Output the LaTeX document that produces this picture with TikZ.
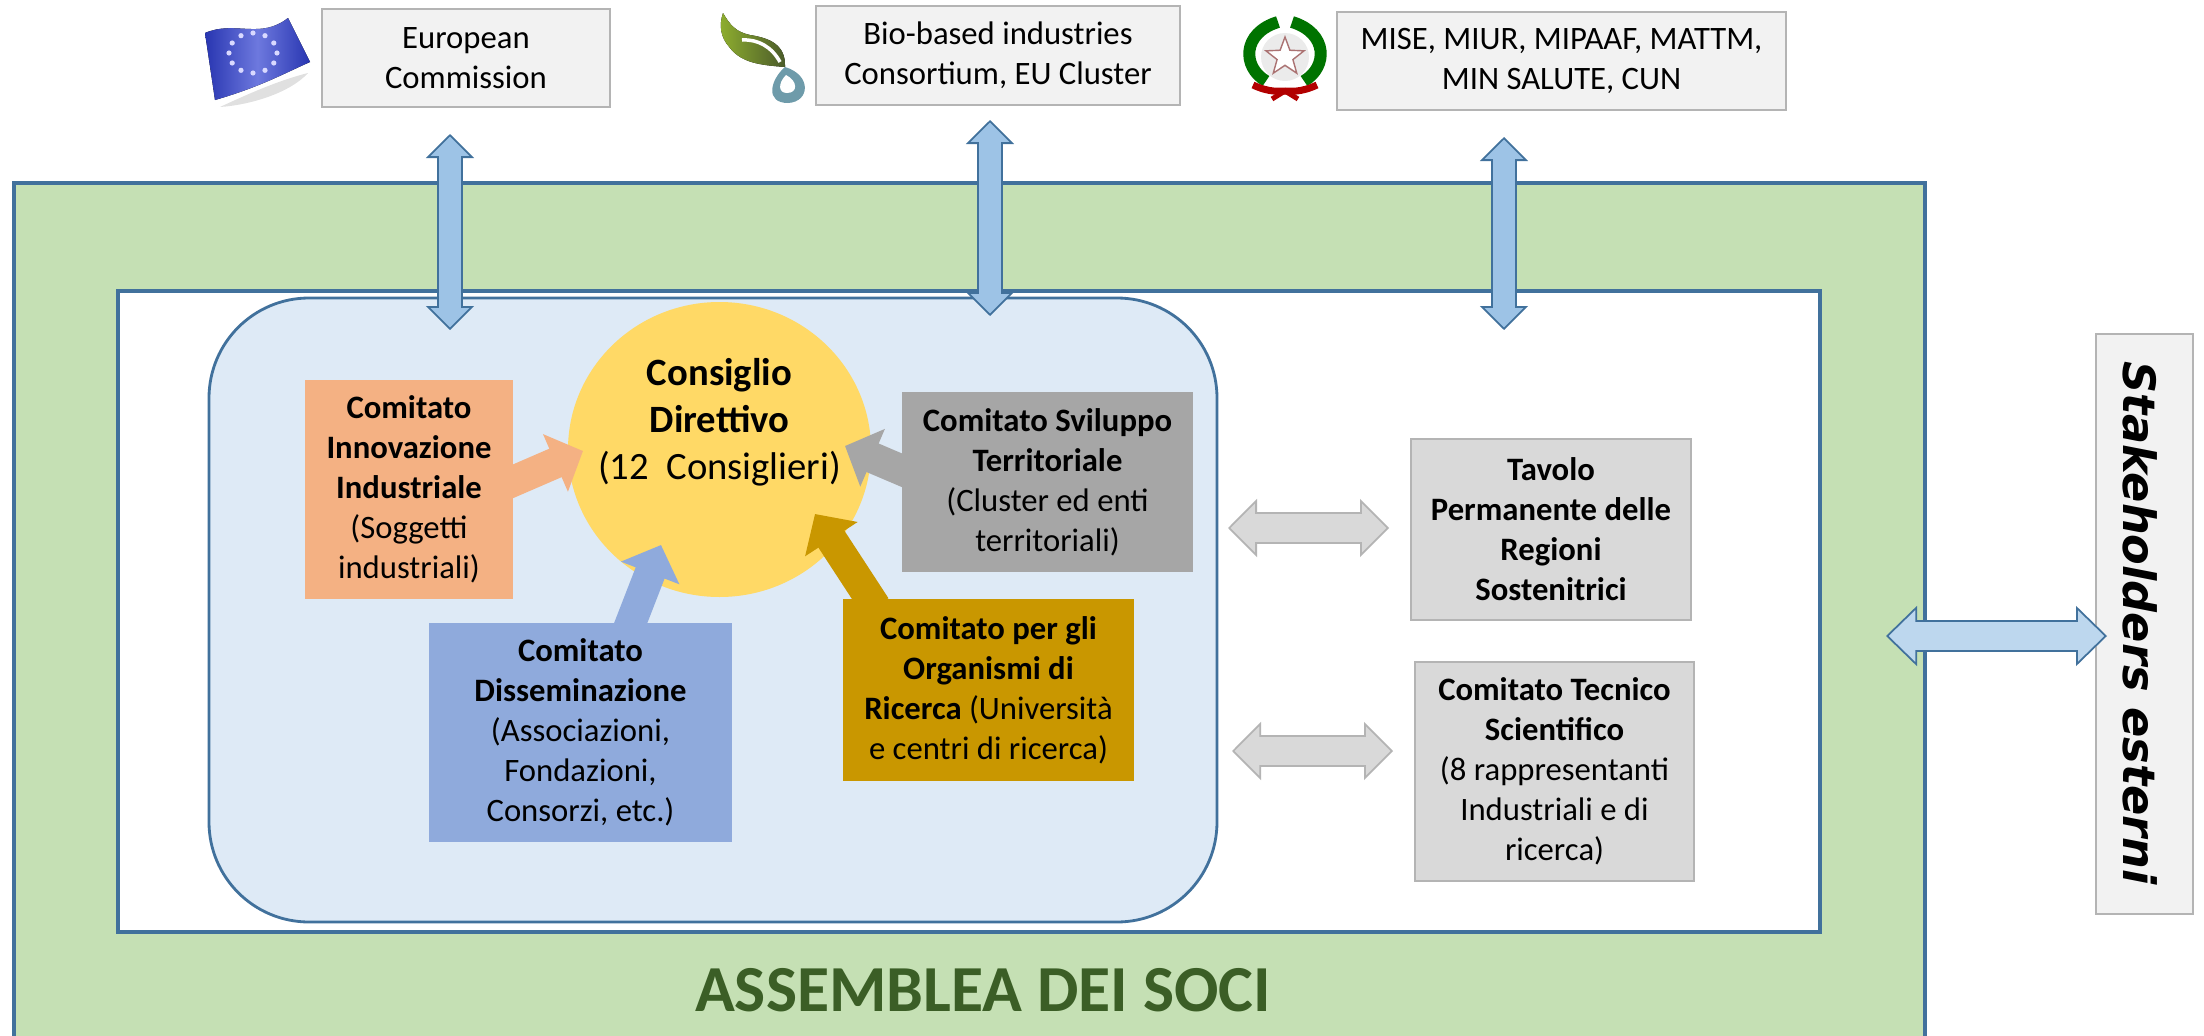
\documentclass[tikz,border=0pt]{standalone}
\usepackage{fontspec}
\setmainfont{Carlito}
\newfontfamily\stakefont{DejaVu Sans}
\usetikzlibrary{arrows.meta,shapes.geometric}
\definecolor{panelgreen}{HTML}{C5E0B4}
\definecolor{paneledge}{HTML}{41719C}
\definecolor{corepale}{HTML}{DEEAF6}
\definecolor{coresun}{HTML}{FFD966}
\definecolor{comorange}{HTML}{F4B183}
\definecolor{comblue}{HTML}{8FAADC}
\definecolor{comgrey}{HTML}{A6A6A6}
\definecolor{comgold}{HTML}{C99700}
\definecolor{sidegrey}{HTML}{D9D9D9}
\definecolor{topgrey}{HTML}{F2F2F2}
\definecolor{topedge}{HTML}{B4B4B4}
\definecolor{linkblue}{HTML}{9DC3E6}
\definecolor{linkpale}{HTML}{BDD7EE}
\definecolor{titlegreen}{HTML}{3B5E26}
\definecolor{leafa}{HTML}{8FAF2F}
\definecolor{leafb}{HTML}{4A5A2A}
\definecolor{dropteal}{HTML}{6E9BAA}
\definecolor{flagblue}{HTML}{2F3FD0}
\tikzset{
  every node/.style={align=flush center,inner sep=0pt},
  txt/.style={font=\fontsize{9.3pt}{11.4pt}\selectfont},
  topbox/.style={txt,draw=topedge,fill=topgrey,line width=.6pt},
  sidebox/.style={txt,draw=topedge,fill=sidegrey,line width=.5pt},
  combox/.style={txt,fill=#1},
  feeder/.style={#1,line width=.31cm,shorten <=-.1cm,-{Triangle[length=.3cm,width=.61cm]}},
  % edge colour, fill colour, shaft width, head length, head width
  blocklink/.style n args={5}{#1,line width=#3+1pt,
    {Triangle[length=#4,width=#5,fill=#2,color=#1,line width=.5pt]}-{Triangle[length=#4,width=#5,fill=#2,color=#1,line width=.5pt]},
    postaction={draw=#2,line width=#3,arrows=-,shorten >=#4-.04cm,shorten <=#4-.04cm}},
  uplink/.style={blocklink={paneledge}{linkblue}{.22cm}{.24cm}{.48cm}},
  sidelink/.style={blocklink={paneledge}{linkpale}{.28cm}{.31cm}{.6cm}},
  greylink/.style={blocklink={topedge}{sidegrey}{.28cm}{.29cm}{.58cm}},
}
\begin{document}
\begin{tikzpicture}
  \useasboundingbox (0,0) rectangle (22.04,10.35);

  % --------------------------------------------------------- %
  % ------------- nested panels
  % --------------------------------------------------------- %
  \node[draw=paneledge,line width=1pt,fill=panelgreen,minimum width=19.11cm,minimum height=8.62cm] (assemblea) at (9.695,4.21) {};
  \node[draw=paneledge,line width=1pt,fill=white,minimum width=17.02cm,minimum height=6.41cm] (plenum) at (9.69,4.235) {};
  \node[draw=paneledge,line width=.8pt,fill=corepale,rounded corners=1cm,minimum width=10.08cm,minimum height=6.24cm] (nucleo) at (7.13,4.25) {};
  \node[font=\fontsize{18.7pt}{20pt}\selectfont\bfseries,text=titlegreen] (titolo) at (9.83,.45) {ASSEMBLEA DEI SOCI};

  % --------------------------------------------------------- %
  % ------------- top boxes
  % --------------------------------------------------------- %
  \node[topbox,minimum width=2.88cm,minimum height=.98cm] (ec) at (4.66,9.77) {European\\Commission};
  \node[topbox,minimum width=3.64cm,minimum height=.99cm] (bic) at (9.98,9.795) {Bio-based industries\\Consortium, EU Cluster};
  \node[topbox,minimum width=4.49cm,minimum height=.98cm] (mise) at (15.615,9.74) {MISE, MIUR, MIPAAF, MATTM,\\MIN SALUTE, CUN};

  % --- EU flag
  \fill[black!12] (3.08,9.62) .. controls (2.9,9.42) and (2.5,9.3) .. (2.2,9.28) .. controls (2.5,9.42) and (2.8,9.55) .. (3.08,9.62);
  \fill[left color=flagblue!85!black,right color=flagblue!85!black,middle color=flagblue!70!white] (2.05,10.02) .. controls (2.35,10.15) and (2.6,9.95) .. (2.88,10.17) -- (3.1,9.73) .. controls (2.85,9.62) and (2.6,9.48) .. (2.15,9.35) -- cycle;
  \foreach \a in {0,30,...,330}
    \fill[white!85!blue] ({2.53+.24*cos(\a)},{9.82+.2*sin(\a)}) circle (.026);

  % --- leaf
  \fill[left color=leafa,right color=leafb] (7.23,10.22) .. controls (7.3,10.1) and (7.36,10.03) .. (7.5,10) .. controls (7.7,9.97) and (7.86,9.9) .. (7.85,9.68) .. controls (7.6,9.7) and (7.42,9.72) .. (7.3,9.87) .. controls (7.2,9.98) and (7.19,10.1) .. (7.23,10.22);
  \draw[line width=.035cm,white] (7.42,9.95) .. controls (7.58,9.96) and (7.72,9.88) .. (7.8,9.73);
  \fill[dropteal] (7.85,9.68) .. controls (8.12,9.6) and (8.1,9.33) .. (7.88,9.32) .. controls (7.65,9.32) and (7.7,9.55) .. (7.85,9.68);
  \fill[white] (7.86,9.6) .. controls (7.98,9.54) and (7.98,9.42) .. (7.87,9.42) .. controls (7.78,9.42) and (7.78,9.52) .. (7.86,9.6);

  % --- emblem
  \fill[black!8] (12.85,9.78) circle (.24);
  \draw[line width=.12cm,green!45!black] (12.78,10.13) .. controls (12.42,10.02) and (12.42,9.68) .. (12.66,9.54);
  \draw[line width=.12cm,green!45!black] (12.92,10.13) .. controls (13.28,10.02) and (13.28,9.68) .. (13.04,9.54);
  \node[star,star points=5,star point ratio=2.4,draw=red!40!black!55,line width=.4pt,fill=white,minimum size=.4cm] (stella) at (12.85,9.78) {};
  \draw[line width=.07cm,red!70!black] (12.53,9.5) .. controls (12.7,9.42) and (12.8,9.44) .. (12.85,9.44) .. controls (12.9,9.44) and (13,9.42) .. (13.17,9.5);
  \draw[line width=.05cm,red!70!black] (12.72,9.36) -- (12.85,9.44) -- (12.98,9.36);

  % --------------------------------------------------------- %
  % ------------- committees
  % --------------------------------------------------------- %
  \node[ellipse,fill=coresun,minimum width=3.03cm,minimum height=2.95cm] (consiglio) at (7.195,5.855) {};
  \node[font=\fontsize{11pt}{13.4pt}\selectfont] (consigliolab) at (7.195,6.13) {\textbf{Consiglio}\\\textbf{Direttivo}\\(12~ Consiglieri)};
  \node[combox=comorange,text width=2.08cm,minimum height=2.19cm] (innovazione) at (4.09,5.455) {\textbf{Comitato}\\\textbf{Innovazione}\\\textbf{Industriale}\\(Soggetti\\industriali)};
  \node[combox=comblue,text width=3.03cm,minimum height=2.19cm] (diss) at (5.805,3.025) {\textbf{Comitato}\\\textbf{Disseminazione}\\(Associazioni,\\Fondazioni,\\Consorzi, etc.)};
  \node[combox=comgrey,text width=2.91cm,minimum height=1.8cm] (sviluppo) at (10.475,5.53) {\textbf{Comitato Sviluppo}\\\textbf{Territoriale}\\(Cluster ed enti\\territoriali)};
  \node[combox=comgold,text width=2.91cm,minimum height=1.82cm] (ricerca) at (9.885,3.45) {\textbf{Comitato per gli}\\\textbf{Organismi di}\\\textbf{Ricerca} (Università\\e centri di ricerca)};

  % --- arrows into the circle
  \coordinate (tipinno) at (5.83,5.84);
  \coordinate (tipdiss) at (6.61,4.9);
  \coordinate (tipsvil) at (8.45,5.89);
  \coordinate (tipric) at (8.15,5.21);
  \draw[feeder=comorange] ([yshift=.085cm]innovazione.east) -- (tipinno);
  \draw[feeder=comblue] ([xshift=.505cm]diss.north) -- (tipdiss);
  \draw[feeder=comgrey] ([yshift=.12cm]sviluppo.west) -- (tipsvil);
  \draw[feeder=comgold] ([xshift=-1.185cm]ricerca.north) -- (tipric);

  % --------------------------------------------------------- %
  % ------------- side boxes
  % --------------------------------------------------------- %
  \node[sidebox,minimum width=2.8cm,minimum height=1.81cm] (tavolo) at (15.51,5.055) {\textbf{Tavolo}\\\textbf{Permanente delle}\\\textbf{Regioni}\\\textbf{Sostenitrici}};
  \node[sidebox,minimum width=2.79cm,minimum height=2.19cm] (cts) at (15.545,2.635) {\textbf{Comitato Tecnico}\\\textbf{Scientifico}\\(8 rappresentanti\\Industriali e di\\ricerca)};
  \node[draw=topedge,fill=topgrey,line width=.6pt,minimum width=.97cm,minimum height=5.8cm] (esterni) at (21.445,4.11) {};
  \node[rotate=-90,font=\stakefont\fontsize{12.7pt}{14pt}\selectfont\bfseries\itshape] (esternilab) at (21.4,4.12) {Stakeholders esterni};

  % --------------------------------------------------------- %
  % ------------- double links
  % --------------------------------------------------------- %
  \coordinate (ecup) at (4.5,9.01);
  \coordinate (eclow) at (4.5,7.05);
  \coordinate (bicup) at (9.9,9.15);
  \coordinate (biclow) at (9.9,7.19);
  \coordinate (miseup) at (15.04,8.98);
  \coordinate (miselow) at (15.04,7.05);
  \coordinate (stakel) at (18.86,3.99);
  \coordinate (staker) at (21.07,3.99);
  \coordinate (tavl) at (12.28,5.07);
  \coordinate (tavr) at (13.89,5.07);
  \coordinate (ctsl) at (12.32,2.84);
  \coordinate (ctsr) at (13.93,2.84);
  \draw[uplink] (ecup) -- (eclow);
  \draw[uplink] (bicup) -- (biclow);
  \draw[uplink] (miseup) -- (miselow);
  \draw[sidelink] (stakel) -- (staker);
  \draw[greylink] (tavl) -- (tavr);
  \draw[greylink] (ctsl) -- (ctsr);

\end{tikzpicture}
\end{document}
